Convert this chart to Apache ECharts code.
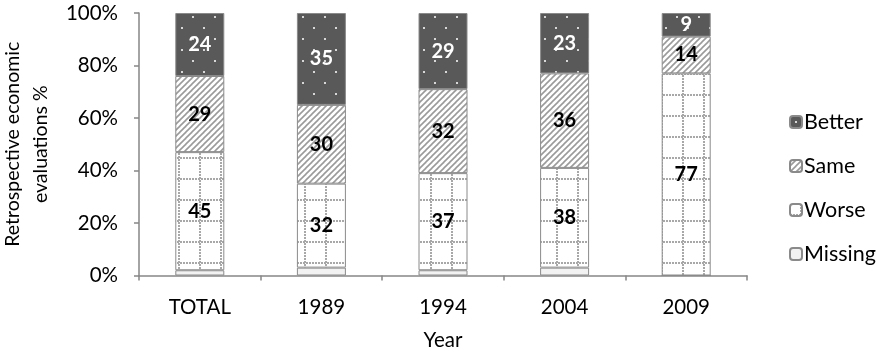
<!DOCTYPE html>
<html>
<head>
<meta charset="utf-8">
<script src="https://cdn.jsdelivr.net/npm/echarts@6/dist/echarts.min.js"></script>
<style>
  html, body { margin: 0; padding: 0; background: #fff; }
  #chart { width: 883px; height: 354px; }
</style>
</head>
<body>
<div id="chart"></div>
<script>
// Retrospective economic evaluations by survey year (percent of respondents)
var categories = ['TOTAL', '1989', '1994', '2004', '2009'];
var better  = [24, 35, 29, 23, 9];
var same    = [29, 30, 32, 36, 14];
var worse   = [45, 32, 37, 38, 77];
var missing = [2, 3, 2, 3, 0];
var yTicks  = [0, 20, 40, 60, 80, 100];

var FONT = 'Lato';
var EDGE = '#8a8a8a';

// Fill patterns for the stacked segments
function tile(w, h, draw) {
  var c = document.createElement('canvas');
  c.width = w; c.height = h;
  draw(c.getContext('2d'), w, h);
  return { image: c, repeat: 'repeat' };
}

var dotsFill = tile(22, 22, function (g, w, h) {
  g.fillStyle = '#595959';
  g.fillRect(0, 0, w, h);
  g.fillStyle = '#d8d8d8';
  g.fillRect(5, 5, 2, 2);
  g.fillRect(16, 16, 2, 2);
});

var stripeFill = tile(6, 6, function (g, w, h) {
  g.fillStyle = '#ffffff';
  g.fillRect(0, 0, w, h);
  g.strokeStyle = '#9a9a9a';
  g.lineWidth = 1.6;
  [-w, 0, w].forEach(function (o) {
    g.beginPath();
    g.moveTo(o - 1, h + 1);
    g.lineTo(o + w + 1, -1);
    g.stroke();
  });
});

var gridFill = tile(21, 21, function (g, w, h) {
  g.fillStyle = '#ffffff';
  g.fillRect(0, 0, w, h);
  g.fillStyle = '#a8a8a8';
  for (var i = 0; i < w; i += 3) {
    g.fillRect(i, 10, 2, 2);
    g.fillRect(10, i, 2, 2);
  }
});

function segment(name, data, fill, labelColor, showLabel) {
  return {
    name: name,
    type: 'bar',
    stack: 'eval',
    barWidth: 49,
    data: data,
    itemStyle: { color: fill, borderColor: EDGE, borderWidth: 1 },
    label: {
      show: showLabel,
      position: 'inside',
      color: labelColor,
      fontFamily: FONT,
      fontWeight: 'bold',
      fontSize: 20
    },
    emphasis: { disabled: true }
  };
}

var chart = echarts.init(document.getElementById('chart'), null, { renderer: 'canvas' });
chart.setOption({
  animation: false,
  backgroundColor: '#ffffff',
  grid: { left: 139, right: 136, top: 13, bottom: 78.5, outerBoundsMode: 'none', containLabel: false },
  legend: {
    orient: 'vertical',
    left: 784,
    top: 106,
    itemWidth: 12,
    itemHeight: 12,
    itemGap: 22,
    data: ['Better', 'Same', 'Worse', 'Missing'],
    textStyle: { fontFamily: FONT, fontSize: 21.5, color: '#000', lineHeight: 22, padding: [0, 0, 0, -3] }
  },
  xAxis: {
    type: 'category',
    data: categories,
    name: 'Year',
    nameLocation: 'middle',
    nameGap: 54,
    nameTextStyle: { fontFamily: FONT, fontSize: 20.5, color: '#000' },
    axisLine: { lineStyle: { color: '#868686', width: 1.5 } },
    axisTick: { show: true, length: 5, lineStyle: { color: '#868686', width: 1.5 } },
    axisLabel: { fontFamily: FONT, fontSize: 20.5, color: '#000', margin: 21 }
  },
  yAxis: {
    type: 'value',
    min: yTicks[0],
    max: yTicks[yTicks.length - 1],
    interval: yTicks[1] - yTicks[0],
    name: 'Retrospective economic\nevaluations %',
    nameLocation: 'middle',
    nameRotate: 90,
    nameGap: 80,
    nameTextStyle: { fontFamily: FONT, fontSize: 19.5, color: '#000', lineHeight: 28 },
    axisLine: { show: true, lineStyle: { color: '#868686', width: 1.5 } },
    axisTick: { show: true, length: 5, lineStyle: { color: '#868686', width: 1.5 } },
    axisLabel: { fontFamily: FONT, fontSize: 20.5, color: '#000', margin: 21, formatter: '{value}%' },
    splitLine: { show: false }
  },
  series: [
    segment('Missing', missing, '#f2f2f2', '#000', false),
    segment('Worse', worse, gridFill, '#000', true),
    segment('Same', same, stripeFill, '#000', true),
    segment('Better', better, dotsFill, '#ffffff', true)
  ]
});
</script>
</body>
</html>
